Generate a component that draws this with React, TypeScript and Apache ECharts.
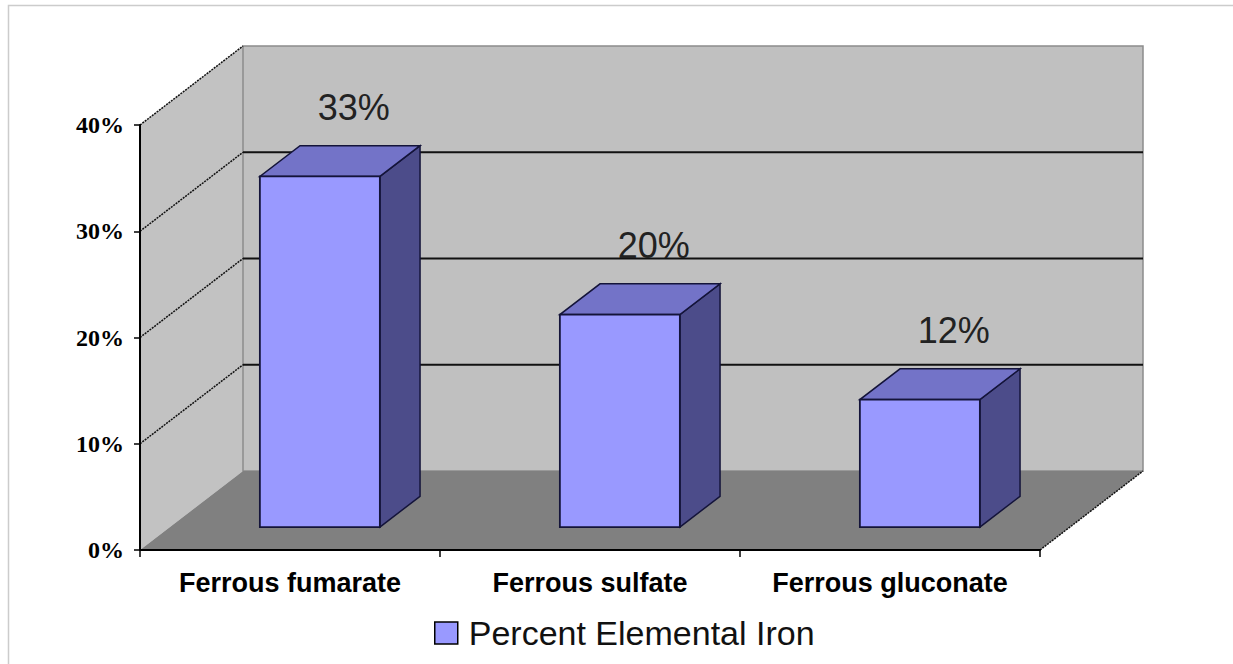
import React, { useEffect, useRef } from "react";
import * as echarts from "echarts";

const categories = ["Ferrous fumarate", "Ferrous sulfate", "Ferrous gluconate"];
const values = [33, 20, 12];
const valueLabels = ["33%", "20%", "12%"];
const seriesName = "Percent Elemental Iron";
const yTicks = [0, 10, 20, 30, 40];

// 3D projection constants (pixels)
const DX = 103;
const DY = -79;
const DEPTH_FRONT = 0.29;
const DEPTH_BACK = 0.68;
const BAR_RATIO = 0.4;

export default function App() {
  const ref = useRef<HTMLDivElement>(null);
  useEffect(() => {
    if (!ref.current) return;
    const chart = echarts.init(ref.current, null, { renderer: "svg" });
    const barData = categories.map((c, i) => [i, values[i]]);
    const option: any = {
      animation: false,
      backgroundColor: "#ffffff",
      color: ["#9999ff"],
      grid: { left: 140, top: 125, width: 900, height: 425 },
      graphic: [
        {
          type: "rect",
          shape: { x: 8.5, y: 5.5, width: 1260, height: 700 },
          style: { fill: "none", stroke: "#cccccc", lineWidth: 1.5 },
          z: -10,
        },
      ],
      legend: {
        data: [seriesName],
        left: 429,
        top: 611,
        icon: "rect",
        itemWidth: 23,
        itemHeight: 22,
        itemStyle: { borderColor: "#000000", borderWidth: 1.5 },
        textStyle: {
          fontFamily: "Liberation Sans, Arial, sans-serif",
          fontSize: 34,
          lineHeight: 34,
          color: "#111111",
          padding: [0, 0, 0, 6],
        },
      },
      xAxis: {
        type: "category",
        data: categories,
        z: 5,
        axisLine: { show: true, lineStyle: { color: "#000000", width: 2 } },
        axisTick: { show: true, interval: 0, length: 7, lineStyle: { color: "#000000", width: 1.5 } },
        axisLabel: {
          interval: 0,
          hideOverlap: false,
          margin: 19,
          fontFamily: "Liberation Sans, Arial, sans-serif",
          fontWeight: "bold",
          fontSize: 27,
          lineHeight: 27,
          color: "#000000",
        },
        splitLine: { show: false },
      },
      yAxis: {
        type: "value",
        min: 0,
        max: 40,
        interval: 10,
        z: 5,
        axisLine: { show: true, lineStyle: { color: "#000000", width: 2 } },
        axisTick: { show: true, length: 6, lineStyle: { color: "#000000", width: 1.5 } },
        axisLabel: {
          margin: 16,
          formatter: "{value}%",
          fontFamily: "Liberation Serif, Times New Roman, serif",
          fontWeight: "bold",
          fontSize: 24,
          color: "#000000",
        },
        splitLine: { show: false },
      },
      series: [
        {
          type: "custom",
          name: "walls",
          z: 1,
          clip: false,
          silent: true,
          data: [[0, 0]],
          renderItem: (params: any, api: any) => {
            const cs = params.coordSys;
            const x = cs.x, y = cs.y, w = cs.width, h = cs.height;
            const children: any[] = [];
            children.push({
              type: "polygon",
              shape: { points: [[x, y + h], [x, y], [x + DX, y + DY], [x + DX, y + h + DY]] },
              style: { fill: "#c2c2c2", stroke: "none" },
            });
            children.push({
              type: "rect",
              shape: { x: x + DX, y: y + DY, width: w, height: h },
              style: { fill: "#c0c0c0", stroke: "#8c8c8c", lineWidth: 1.5 },
            });
            children.push({
              type: "polygon",
              shape: { points: [[x, y + h], [x + w, y + h], [x + w + DX, y + h + DY], [x + DX, y + h + DY]] },
              style: { fill: "#808080", stroke: "none" },
            });
            yTicks.forEach((v) => {
              if (v === 0) return;
              const yv = api.coord([0, v])[1];
              if (v !== 40) {
                children.push({
                  type: "line",
                  shape: { x1: x + DX, y1: yv + DY, x2: x + w + DX, y2: yv + DY },
                  style: { stroke: "#111111", lineWidth: 1.8 },
                });
              }
              children.push({
                type: "line",
                shape: { x1: x, y1: yv, x2: x + DX, y2: yv + DY },
                style: { stroke: "#111111", lineWidth: 1.5, lineDash: [2, 1] },
              });
            });
            children.push({
              type: "line",
              shape: { x1: x + w, y1: y + h, x2: x + w + DX, y2: y + h + DY },
              style: { stroke: "#111111", lineWidth: 1.5, lineDash: [2, 1] },
            });
            return { type: "group", children };
          },
        },
        {
          type: "custom",
          name: seriesName,
          z: 3,
          clip: false,
          itemStyle: { color: "#9999ff" },
          data: barData,
          renderItem: (params: any, api: any) => {
            const xi = api.value(0);
            const v = api.value(1);
            const base = api.coord([xi, 0]);
            const top = api.coord([xi, v]);
            const bw = api.size([1, 0])[0] * BAR_RATIO;
            const fx = DX * DEPTH_FRONT, fy = DY * DEPTH_FRONT;
            const bx = DX * DEPTH_BACK, by = DY * DEPTH_BACK;
            const L = base[0] - bw / 2, R = base[0] + bw / 2;
            const y0 = base[1], y1 = top[1];
            const stroke = "#14143a";
            return {
              type: "group",
              children: [
                {
                  type: "polygon",
                  shape: { points: [[R + fx, y0 + fy], [R + bx, y0 + by], [R + bx, y1 + by], [R + fx, y1 + fy]] },
                  style: { fill: "#4c4c8a", stroke, lineWidth: 1.5 },
                },
                {
                  type: "polygon",
                  shape: { points: [[L + fx, y1 + fy], [R + fx, y1 + fy], [R + bx, y1 + by], [L + bx, y1 + by]] },
                  style: { fill: "#7373c8", stroke, lineWidth: 1.5 },
                },
                {
                  type: "polygon",
                  shape: { points: [[L + fx, y0 + fy], [R + fx, y0 + fy], [R + fx, y1 + fy], [L + fx, y1 + fy]] },
                  style: { fill: "#9999ff", stroke, lineWidth: 1.8 },
                },
                {
                  type: "text",
                  style: {
                    x: base[0] + fx + 34,
                    y: y1 + by - 38,
                    text: valueLabels[params.dataIndex],
                    align: "center",
                    verticalAlign: "middle",
                    fontFamily: "Liberation Sans, Arial, sans-serif",
                    fontSize: 36,
                    fill: "#222222",
                  },
                },
              ],
            };
          },
        },
      ],
    };
    chart.setOption(option);
    return () => chart.dispose();
  }, []);
  return (
    <div
      ref={ref}
      style={{ position: "fixed", left: 0, top: 0, width: 1233, height: 664 }}
    />
  );
}
